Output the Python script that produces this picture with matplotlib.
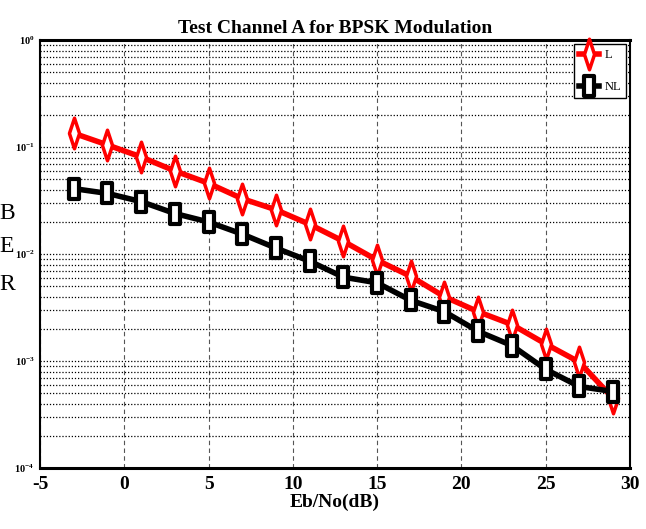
import matplotlib
matplotlib.use("Agg")
import matplotlib.pyplot as plt
from matplotlib.path import Path
from matplotlib.ticker import LogLocator, FixedLocator

plt.rcParams["axes.unicode_minus"] = False

ebno = [-3, -1, 1, 3, 5, 7, 9, 11, 13, 15, 17, 19, 21, 23, 25, 27, 29]
ber_l = [0.135, 0.105, 0.081, 0.060, 0.046, 0.033, 0.026, 0.019, 0.0132,
         0.0088, 0.0062, 0.0040, 0.0029, 0.0022, 0.00145, 0.00098, 0.00045]
ber_nl = [0.041, 0.037, 0.031, 0.024, 0.020, 0.0154, 0.0114, 0.0086, 0.0061,
          0.0054, 0.0037, 0.0029, 0.0019, 0.0014, 0.00084, 0.00058, 0.00052]
x_ticks = [-5, 0, 5, 10, 15, 20, 25, 30]

# narrow, tall marker shapes
slim_diamond = Path([(0, 1), (0.33, 0), (0, -1), (-0.33, 0), (0, 1)], closed=True)
slim_box = Path([(-0.45, -1), (0.45, -1), (0.45, 1), (-0.45, 1), (-0.45, -1)], closed=True)

serif = "Liberation Serif"
fig = plt.figure(figsize=(6.46, 5.29), dpi=100)
ax = fig.add_axes([0.062, 0.115, 0.913, 0.809])

ax.semilogy(ebno, ber_l, color="red", lw=4, marker=slim_diamond, ms=22,
            mfc="white", mec="red", mew=2.5, label="L", zorder=3)
ax.semilogy(ebno, ber_nl, color="black", lw=4, marker=slim_box, ms=15,
            mfc="white", mec="black", mew=3, label="NL", zorder=3)

ax.set_xlim(-5, 30)
ax.set_ylim(1e-4, 1)
ax.xaxis.set_major_locator(FixedLocator(x_ticks))
ax.yaxis.set_major_locator(LogLocator(base=10, numticks=10))
ax.yaxis.set_minor_locator(LogLocator(base=10, subs=range(2, 10), numticks=20))

ax.grid(True, which="major", axis="x", color="#555555", ls=(0, (4, 3)), lw=0.8)
ax.grid(True, which="both", axis="y", color="black", ls=(0, (1, 1.5)), lw=0.9)

for s in ax.spines.values():
    s.set_linewidth(1.5)
ax.spines["bottom"].set_linewidth(2.2)
ax.spines["top"].set_linewidth(2.2)

ax.tick_params(axis="x", which="major", direction="in", length=0, pad=6)
ax.tick_params(axis="y", which="both", direction="in", length=0, pad=4)

for lab in ax.get_xticklabels():
    lab.set_fontfamily(serif)
    lab.set_fontweight("bold")
    lab.set_fontsize(14)
for lab in ax.get_yticklabels():
    lab.set_fontfamily(serif)
    lab.set_fontweight("bold")
    lab.set_fontsize(7.5)

ax.set_title("Test Channel A for BPSK Modulation", fontfamily=serif,
             fontweight="bold", fontsize=14, pad=5)
ax.set_xlabel("Eb/No(dB)", fontfamily=serif, fontweight="bold",
              fontsize=14, labelpad=0)

# vertical "B E R" axis label
for letter, ypix in zip("BER", [213, 247, 285]):
    fig.text(7 / 646, 1 - ypix / 529, letter, fontfamily=serif, fontsize=17,
             ha="center", va="center")

leg = ax.legend(loc="upper right", fancybox=False, edgecolor="black",
                framealpha=1, handlelength=1.6, borderaxespad=0.3,
                handletextpad=0.4, borderpad=0.4,
                prop={"family": serif, "size": 9}, labelspacing=1.6)
leg.get_frame().set_linewidth(1.0)

fig.savefig("out.png", dpi=100)
